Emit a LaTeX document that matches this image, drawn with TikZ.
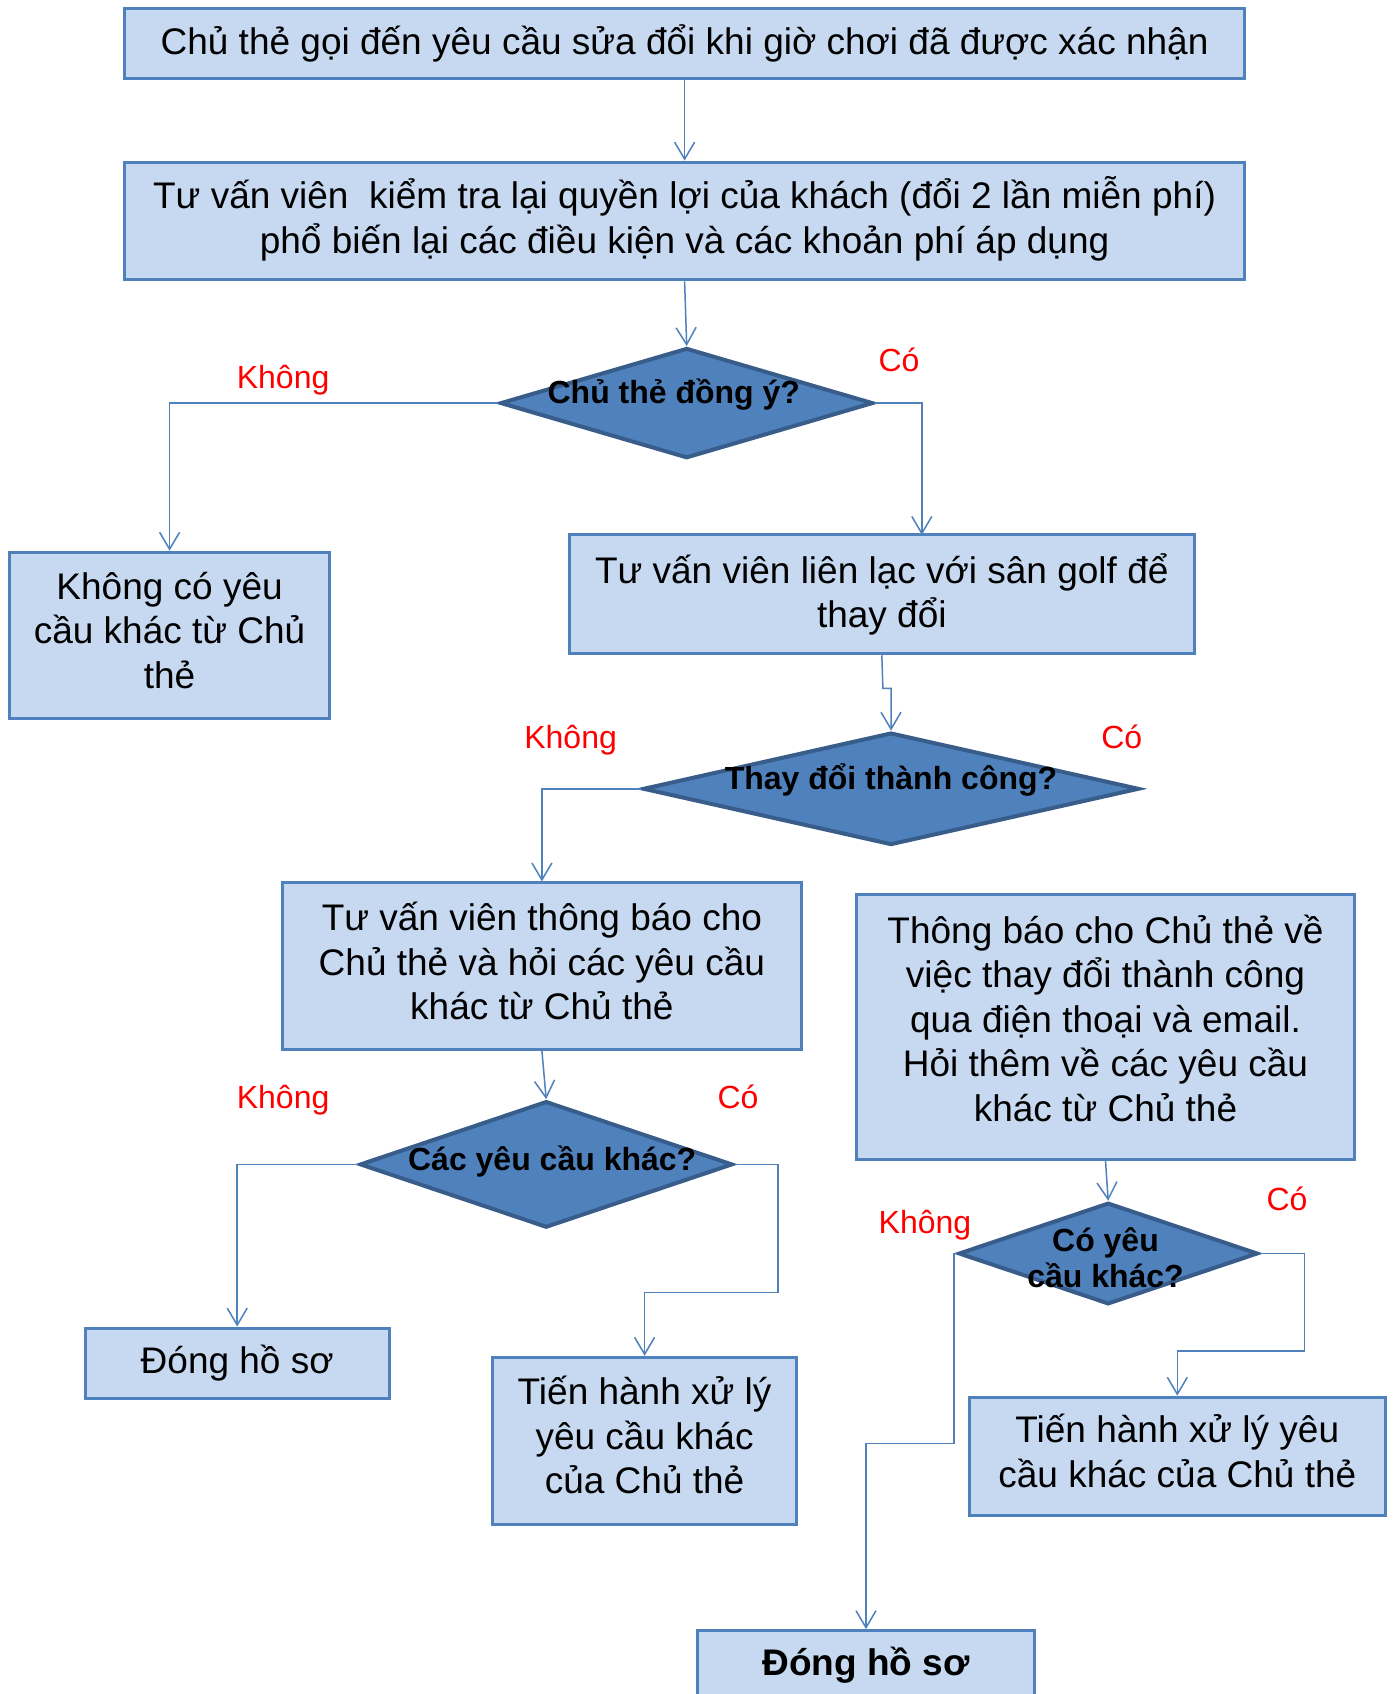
\documentclass[tikz,border=0pt]{standalone}
\usepackage{fontspec}
\setmainfont{Liberation Sans}
\usetikzlibrary{shapes.geometric,arrows.meta}
\definecolor{boxfill}{RGB}{198,217,241}
\definecolor{boxline}{RGB}{79,129,189}
\definecolor{dfill}{RGB}{79,129,189}
\definecolor{dline}{RGB}{56,93,138}
\begin{document}
\begin{tikzpicture}[x=1pt,y=-1pt,
 box/.style={draw=boxline,fill=boxfill,line width=3pt,inner sep=0pt,align=center,font=\fontsize{37}{44.5}\selectfont},
 txt/.style={inner sep=0pt,align=center,font=\fontsize{37}{44.5}\selectfont},
 dia/.style={diamond,draw=dline,fill=dfill,line width=4pt,inner sep=0pt},
 dtext/.style={font=\fontsize{32}{36.7}\selectfont\bfseries,align=center,inner sep=0pt},
 lab/.style={text=red,font=\fontsize{32}{38}\selectfont,inner sep=0pt},
 conn/.style={draw=boxline,line width=1.5pt,-{Straight Barb[length=17pt,width=20pt]}}]
\useasboundingbox (0,0) rectangle (1394,1694);
\fill[white] (0,0) rectangle (1394,1694);
% boxes
\node[box,minimum width=1120.6pt,minimum height=70.3pt] (b1) at (684.6,43.7) {Chủ thẻ gọi đến yêu cầu sửa đổi khi giờ chơi đã được xác nhận};
\node[box,minimum width=1120.6pt,minimum height=117.8pt] (b2) at (684.6,221) {};
\node[txt] (b2t) at ([yshift=2pt]b2.center) {Tư vấn viên~ kiểm tra lại quyền lợi của khách (đổi 2 lần miễn phí)\\phổ biến lại các điều kiện và các khoản phí áp dụng};
\node[box,minimum width=319.9pt,minimum height=166.4pt] (b3) at (169.6,635.4) {};
\node[txt] (b3t) at ([yshift=5pt]b3.center) {Không có yêu\\cầu khác từ Chủ\\thẻ};
\node[box,minimum width=624.6pt,minimum height=118.9pt] (b4) at (881.8,594.3) {Tư vấn viên liên lạc với sân golf để\\thay đổi};
\node[box,minimum width=519.8pt,minimum height=166.4pt] (b5) at (541.9,966.1) {};
\node[txt] (b5t) at ([yshift=5pt]b5.center) {Tư vấn viên thông báo cho\\Chủ thẻ và hỏi các yêu cầu\\khác từ Chủ thẻ};
\node[box,minimum width=497.1pt,minimum height=264.8pt] (b6) at (1105.5,1027.1) {};
\node[txt] (b6t) at ([yshift=9pt]b6.center) {Thông báo cho Chủ thẻ về\\việc thay đổi thành công\\qua điện thoại và email.\\Hỏi thêm về các yêu cầu\\khác từ Chủ thẻ};
\node[box,minimum width=303.6pt,minimum height=70.3pt] (b7) at (237.2,1363.2) {Đóng hồ sơ};
\node[box,minimum width=303.6pt,minimum height=167.5pt] (b8) at (644.6,1441) {};
\node[txt] (b8t) at ([yshift=6pt]b8.center) {Tiến hành xử lý\\yêu cầu khác\\của Chủ thẻ};
\node[box,minimum width=416pt,minimum height=117.8pt] (b9) at (1177.3,1456.1) {};
\node[txt] (b9t) at ([yshift=5pt]b9.center) {Tiến hành xử lý yêu\\cầu khác của Chủ thẻ};
\node[box,minimum width=336.1pt,minimum height=70pt,font=\fontsize{37}{44.5}\selectfont\bfseries] (b10) at (866,1665.6) {Đóng hồ sơ};
% diamonds
\node[dia,minimum width=372.8pt,minimum height=110.2pt] (d1) at (686.7,403.1) {};
\node[dia,minimum width=496pt,minimum height=112.4pt] (d2) at (891,788.8) {};
\node[dia,minimum width=372.8pt,minimum height=126.5pt] (d3) at (546.2,1164.4) {};
\node[dia,minimum width=299.3pt,minimum height=101.6pt] (d4) at (1108.2,1253.5) {};
\node[dtext] (t1) at (673.8,394.4) {Chủ thẻ đồng ý?};
\node[dtext] (t2) at (891,780.2) {Thay đổi thành công?};
\node[dtext] (t3) at (552.2,1161.7) {Các yêu cầu khác?};
\node[dtext] (t4) at (1105.5,1257.8) {Có yêu\\cầu khác?};
% labels
\node[lab] (l1) at (283.1,380.1) {Không};
\node[lab] (l2) at (899,359.8) {Có};
\node[lab] (l3) at (570.6,740) {Không};
\node[lab] (l4) at (1121.7,737) {Có};
\node[lab] (l5) at (283.1,1099.8) {Không};
\node[lab] (l6) at (738,1096.8) {Có};
\node[lab] (l7) at (925,1225.2) {Không};
\node[lab] (l8) at (1287,1198.4) {Có};
% helper coordinates
\coordinate (k1) at (921.8,534.9);
\coordinate (k2) at (882.9,688.3);
\coordinate (k3) at (778,1292.4);
\coordinate (k4) at (1304.3,1350.8);
\coordinate (k5) at (954.2,1443.6);
% connectors
\draw[conn] (b1.south) -- (b2.north);
\draw[conn] (b2.south) -- (d1.north);
\draw[conn] (d1.west) -| (b3.north);
\draw[conn] (d1.east) -| (k1);
\draw[conn] (b4.south) -- (k2) -| (d2.north);
\draw[conn] (d2.west) -| (b5.north);
\draw[conn] (b5.south) -- (d3.north);
\draw[conn] (d3.west) -| (b7.north);
\draw[conn] (d3.east) -| (k3) -| (b8.north);
\draw[conn] (b6.south) -- (d4.north);
\draw[conn] (d4.east) -| (k4) -| (b9.north);
\draw[conn] (d4.west) -| (k5) -| (b10.north);
\end{tikzpicture}
\end{document}
